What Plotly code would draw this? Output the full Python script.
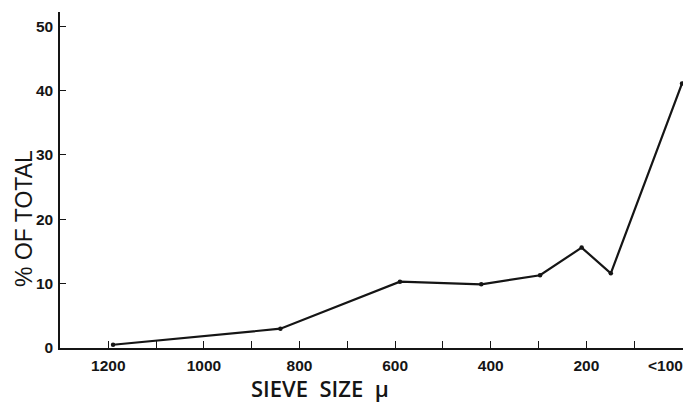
import plotly.graph_objects as go

# Sieve fractions: size (microns) and share of total weight
sieve_size = [1190, 840, 590, 420, 297, 210, 149, 0]
pct_total = [0.5, 3.0, 10.3, 9.9, 11.3, 15.6, 11.6, 41.1]

x_tickvals = [1200, 1000, 800, 600, 400, 200]
x_ticktext = ["1200", "1000", "800", "600", "400", "200"]
y_tickvals = [0, 10, 20, 30, 40, 50]

INK = "#151515"
tick_font = dict(family="Liberation Sans, Arial, sans-serif", size=15.5,
                 color=INK, weight="bold")

fig = go.Figure()
fig.add_trace(go.Scatter(
    x=sieve_size, y=pct_total, mode="lines+markers",
    line=dict(color=INK, width=2.2),
    marker=dict(color=INK, size=4.5),
    showlegend=False, hoverinfo="skip",
))

fig.update_layout(
    width=686, height=403,
    margin=dict(l=60, r=3, t=12, b=55),
    paper_bgcolor="white", plot_bgcolor="white",
)

fig.update_xaxes(
    range=[1301, -2],
    tickmode="array", tickvals=x_tickvals, ticktext=x_ticktext,
    ticks="inside", ticklen=7, tickwidth=1.3, tickcolor=INK,
    minor=dict(tickmode="linear", tick0=0, dtick=100, ticks="inside",
               ticklen=7, tickwidth=1.3, tickcolor=INK),
    showline=True, linecolor=INK, linewidth=1.5,
    showgrid=False, zeroline=False,
    tickfont=tick_font, ticklabelstandoff=3,
)
fig.update_yaxes(
    range=[0, 52.2],
    tickmode="array", tickvals=y_tickvals,
    ticks="inside", ticklen=6, tickwidth=1.3, tickcolor=INK,
    showline=True, linecolor=INK, linewidth=1.5,
    showgrid=False, zeroline=False,
    tickfont=tick_font, ticklabelstandoff=2,
)

# "<100" label for the finest fraction, set between the 100 and 0 marks
fig.add_annotation(
    text="<100", xref="x", yref="paper", x=35, y=-0.0506,
    showarrow=False, font=tick_font, xanchor="center", yanchor="middle",
)

# Axis titles
fig.add_annotation(
    text="% OF TOTAL", xref="paper", yref="paper", x=-0.0578, y=0.387,
    textangle=-90, showarrow=False, xanchor="center", yanchor="middle",
    font=dict(family="Liberation Sans, Arial, sans-serif", size=23, color=INK),
)
fig.add_annotation(
    text="SIEVE&nbsp; SIZE&nbsp; µ", xref="paper", yref="paper", x=0.417, y=-0.12,
    showarrow=False, xanchor="center", yanchor="middle",
    font=dict(family="Open Sans, sans-serif", size=22, color=INK, weight=600),
)

fig.write_html("out.html")
